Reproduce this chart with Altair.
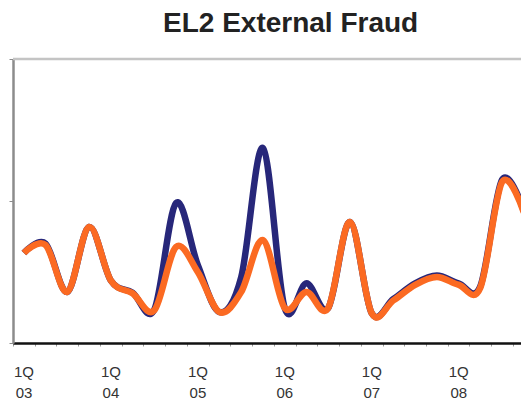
import altair as alt
import pandas as pd

quarters = list(range(24))  # 1Q03 .. 4Q08
series_a = [0.634, 0.70, 0.36, 0.817, 0.44, 0.355, 0.235, 0.986, 0.55, 0.218, 0.465, 1.373,
            0.246, 0.42, 0.246, 0.852, 0.21, 0.31, 0.42, 0.475, 0.42, 0.40, 1.15, 0.93]
series_b = [0.634, 0.69, 0.36, 0.817, 0.44, 0.35, 0.23, 0.676, 0.50, 0.218, 0.36, 0.725,
            0.246, 0.36, 0.246, 0.852, 0.21, 0.30, 0.41, 0.465, 0.41, 0.39, 1.134, 0.92]
series_names = ["Series A", "Series B"]
series_colors = ["#27277a", "#fb6a22"]
tick_values = [k - 0.5 for k in range(24)]
y_ticks = [0, 1, 2]

rows = []
for name, vals in zip(series_names, [series_a, series_b]):
    for q, v in zip(quarters, vals):
        rows.append({"q": q, "series": name, "value": v})
df = pd.DataFrame(rows)

x_scale = alt.Scale(domain=[-0.5, 22.87], nice=False, zero=False)
y_scale = alt.Scale(domain=[0, 2], nice=False)

label_expr = ("(datum.value + 0.5) % 4 == 0 ? ['1Q', '0' + (3 + (datum.value + 0.5) / 4)] : ''")

lines = alt.Chart(df).mark_line(interpolate="cardinal", strokeWidth=6.5, clip=True).encode(
    x=alt.X("q:Q", scale=x_scale,
            axis=alt.Axis(values=tick_values, title=None, grid=False,
                          domainColor="#111111", domainWidth=2.5,
                          tickColor="#9a9a9a", tickSize=3, tickWidth=1,
                          labelExpr=label_expr, labelOffset=10.5, labelAlign="center",
                          labelBaseline="top", labelPadding=18, labelLineHeight=21,
                          labelFontSize=15, labelFont="Liberation Sans", labelColor="#333333",
                          labelOverlap=False, labelFlush=False, labelBound=False)),
    y=alt.Y("value:Q", scale=y_scale,
            axis=alt.Axis(values=y_ticks, title=None, grid=False, labels=False,
                          domainColor="#8c8c8c", domainWidth=2.5,
                          tickColor="#8c8c8c", tickSize=4, tickWidth=1)),
    color=alt.Color("series:N", scale=alt.Scale(domain=series_names, range=series_colors),
                    legend=None),
    order=alt.Order("series:N"),
)

top_border = alt.Chart(pd.DataFrame({"v": [2]})).mark_rule(color="#c4c4c4", strokeWidth=2.5).encode(
    y=alt.Y("v:Q", scale=y_scale)
)

chart = alt.layer(top_border, lines).properties(
    width=508, height=284,
    padding={"left": 5, "top": 51, "right": 0, "bottom": 60},
    autosize=alt.AutoSizeParams(type="none"),
    title=alt.Title("EL2 External Fraud", fontSize=28, font="Liberation Sans", fontWeight="bold",
                    color="#222222", anchor="start", frame="group", dx=150, offset=20),
).configure_view(stroke=None)

chart.save("out.html", embed_options={"renderer": "svg", "actions": False})
